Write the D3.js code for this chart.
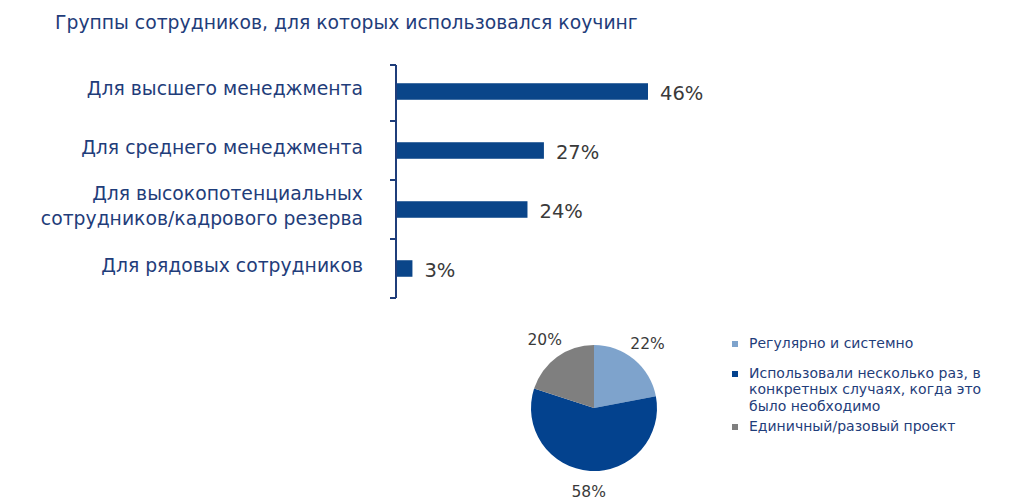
<!DOCTYPE html>
<html><head><meta charset="utf-8">
<script src="https://cdn.jsdelivr.net/npm/d3@7"></script>
<style>body{margin:0;background:#fff}svg{display:block}</style>
</head><body>
<svg id="c" width="1024" height="501"></svg>
<script>
const title = "Группы сотрудников, для которых использовался коучинг";
const categories = [
  ["Для высшего менеджмента"],
  ["Для среднего менеджмента"],
  ["Для высокопотенциальных", "сотрудников/кадрового резерва"],
  ["Для рядовых сотрудников"]
];
const barValues = [46, 27, 24, 3];
const pieLegendLines = [["Регулярно и системно"], ["Использовали несколько раз, в", "конкретных случаях, когда это", "было необходимо"], ["Единичный/разовый проект"]];
const pieValues = [22, 58, 20];
const pieColors = ["#7ea3cc", "#03428e", "#7f7f7f"];

const svg = d3.select("#c");
const font = "DejaVu Sans, Verdana, sans-serif";
const blue = "#1f3d7a";

svg.append("text").attr("x", 55).attr("y", 29).attr("font-family", font)
  .attr("font-size", 18.8).attr("fill", blue).text(title);

// bar chart
const x0 = 396;
const x = d3.scaleLinear().domain([0, 46]).range([x0, 648]);
const idx = categories.map((d, i) => i);
const y = d3.scaleBand().domain(idx).range([62, 298]).paddingInner(0.72).paddingOuter(0.36);
const step = y.step();

const axis = svg.append("g").attr("transform", `translate(${x0},0)`)
  .call(d3.axisLeft(y).tickSize(0).tickFormat(""));
axis.select(".domain").attr("stroke", blue).attr("stroke-width", 2).attr("d", `M0,65V298`);
const bounds = idx.map(i => y(i) - y.paddingInner() * step / 2).concat([298]);
bounds[0] = 65;
axis.selectAll(".bt").data(bounds).join("line").attr("class", "bt")
  .attr("x1", -6).attr("x2", 0).attr("y1", d => d).attr("y2", d => d)
  .attr("stroke", blue).attr("stroke-width", 2);

svg.selectAll(".bar").data(barValues).join("rect").attr("class", "bar")
  .attr("x", x0 + 1).attr("y", (d, i) => y(i)).attr("height", y.bandwidth())
  .attr("width", d => x(d) - x0 - 1).attr("fill", "#0a4589");

svg.selectAll(".val").data(barValues).join("text").attr("class", "val")
  .attr("x", d => x(d) + 12).attr("y", (d, i) => y(i) + y.bandwidth() / 2 + 8)
  .attr("font-family", font).attr("font-size", 19.5).attr("fill", "#3a3a3a")
  .text(d => d + "%");

const cat = svg.selectAll(".cat").data(categories).join("text").attr("class", "cat")
  .attr("font-family", font).attr("font-size", 18.8).attr("fill", blue)
  .attr("text-anchor", "end");
cat.each(function(lines, i) {
  const cy = y(i) + y.bandwidth() / 2 - 3;
  const n = lines.length;
  d3.select(this).selectAll("tspan").data(lines).join("tspan")
    .attr("x", 363).attr("y", (l, j) => cy + 6 + (j - (n - 1) / 2) * 25).text(l => l);
});

// pie
const cx = 594, cy = 408, r = 63;
const pie = d3.pie().sort(null).value(d => d)(pieValues);
const arc = d3.arc().innerRadius(0).outerRadius(r);
const labelArc = d3.arc().innerRadius(84).outerRadius(84);
const pg = svg.append("g").attr("transform", `translate(${cx},${cy})`);
pg.selectAll("path").data(pie).join("path").attr("d", arc)
  .attr("fill", (d, i) => pieColors[i]);
pg.selectAll("text").data(pie).join("text")
  .attr("transform", d => `translate(${labelArc.centroid(d)})`)
  .attr("text-anchor", "middle").attr("dy", "0.35em")
  .attr("font-family", font).attr("font-size", 15.5).attr("fill", "#3a3a3a")
  .text(d => d.data + "%");

// legend
const legY = [343, 373, 426];
const lg = svg.append("g");
pieLegendLines.forEach((lines, i) => {
  lg.append("rect").attr("x", 732).attr("y", legY[i] - 2).attr("width", 6).attr("height", 6)
    .attr("fill", pieColors[i]);
  lg.append("text").attr("font-family", font).attr("font-size", 14).attr("fill", blue)
    .selectAll("tspan").data(lines).join("tspan")
    .attr("x", 749).attr("y", (l, j) => legY[i] + 5 + j * 16.4).text(l => l);
});
</script>
</body></html>
